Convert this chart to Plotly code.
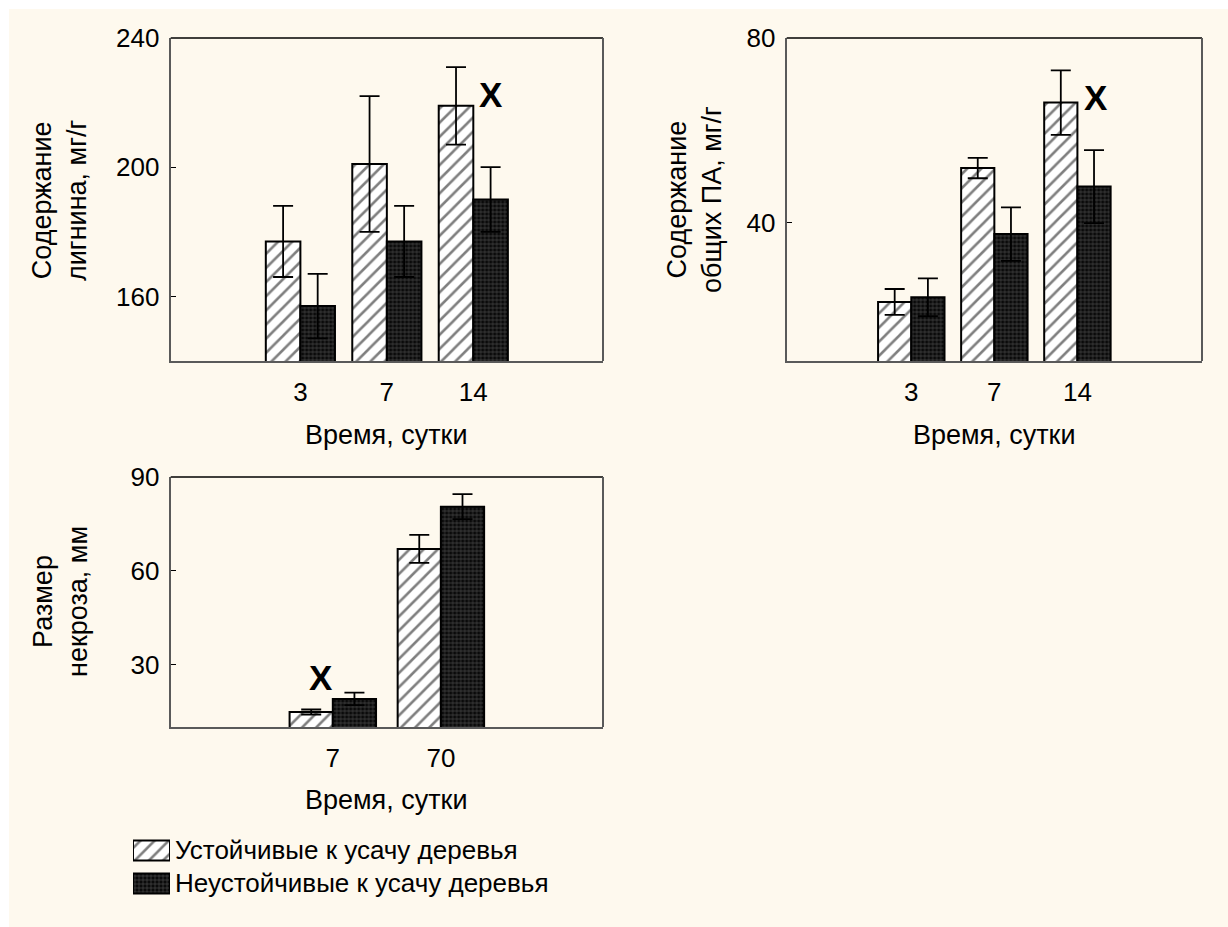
import plotly.graph_objects as go

W, H = 1228, 927

# ---- data ----
days_a = ["3", "7", "14"]
lignin_res = [177, 201, 219]
lignin_res_err = [11, 21, 12]
lignin_sus = [157, 177, 190]
lignin_sus_err = [10, 11, 10]

pa_res = [22.8, 51.8, 66.0]
pa_res_err = [2.8, 2.2, 7.0]
pa_sus = [23.8, 37.5, 47.8]
pa_sus_err = [4.1, 5.8, 7.9]

days_b = ["7", "70"]
necr_res = [14.8, 67.0]
necr_res_err = [0.8, 4.5]
necr_sus = [19.0, 80.5]
necr_sus_err = [2.0, 4.0]

name_res = "Устойчивые к усачу деревья"
name_sus = "Неустойчивые к усачу деревья"
legend_keys = ["r", "s"]
legend_len = [1, 1]

# significance marks: (axis, x position in category units, y value)
marks = [("x", 2.2, 222.5), ("x2", 2.22, 67.0), ("x3", -0.11, 26.0)]

FONT = "Liberation Sans, Arial, sans-serif"
FS_T = 26   # tick labels
FS_A = 27   # axis titles
FS_L = 26   # legend

res_marker = dict(color="white", line=dict(color="black", width=2),
                  pattern=dict(shape="/", size=10, solidity=0.26,
                               fgcolor="black", bgcolor="white"))
sus_marker = dict(color="#111111", line=dict(color="black", width=2),
                  pattern=dict(shape="+", size=4, solidity=0.25,
                               fgcolor="#a0a0a0", bgcolor="#0a0a0a"))

def err(v):
    return dict(type="data", array=v, visible=True, color="black",
                thickness=1.8, width=10)

fig = go.Figure()

def add_pair(xax, yax, cats, r, re, s, se):
    fig.add_trace(go.Bar(x=cats, y=r, error_y=err(re), marker=res_marker,
                         name=name_res, xaxis=xax, yaxis=yax, showlegend=False))
    fig.add_trace(go.Bar(x=cats, y=s, error_y=err(se), marker=sus_marker,
                         name=name_sus, xaxis=xax, yaxis=yax, showlegend=False))

add_pair("x", "y", days_a, lignin_res, lignin_res_err, lignin_sus, lignin_sus_err)
add_pair("x2", "y2", days_a, pa_res, pa_res_err, pa_sus, pa_sus_err)
add_pair("x3", "y3", days_b, necr_res, necr_res_err, necr_sus, necr_sus_err)

# legend swatches (own small axis)
fig.add_trace(go.Bar(y=[legend_keys[0]], x=[legend_len[0]], orientation="h",
                     marker=res_marker, width=0.6, offset=-0.3,
                     xaxis="x4", yaxis="y4", showlegend=False, hoverinfo="skip"))
fig.add_trace(go.Bar(y=[legend_keys[1]], x=[legend_len[1]], orientation="h",
                     marker=sus_marker, width=0.6, offset=-0.3,
                     xaxis="x4", yaxis="y4", showlegend=False, hoverinfo="skip"))

def px_x(a, b):
    return [a / W, b / W]

def px_y(top, bot):
    return [1 - bot / H, 1 - top / H]

axis_line = dict(showline=True, linecolor="#5a5a5a", linewidth=2,
                 showgrid=False, zeroline=False, automargin=False,
                 tickfont=dict(family=FONT, size=FS_T, color="black"))

xa = dict(axis_line, type="category", ticks="", ticklabelstandoff=7)
ya = dict(axis_line, ticks="inside", ticklen=5, tickcolor="black", tickwidth=1,
          ticklabelstandoff=4)

d_tl = px_x(170.7, 603)
d_tr = px_x(786.7, 1202)
d_top = px_y(38, 361)
d_bot = px_y(477, 727)

hidden = dict(visible=False, showgrid=False, zeroline=False, automargin=False,
              fixedrange=True)

fig.update_layout(
    xaxis=dict(xa, domain=d_tl, anchor="y", range=[-1.5, 3.5]),
    yaxis=dict(ya, domain=d_top, anchor="x", range=[140, 240],
               tickvals=[160, 200, 240]),
    xaxis2=dict(xa, domain=d_tr, anchor="y2", range=[-1.5, 3.5]),
    yaxis2=dict(ya, domain=d_top, anchor="x2", range=[10, 80],
                tickvals=[40, 80]),
    xaxis3=dict(xa, domain=d_tl, anchor="y3", range=[-1.5, 2.5]),
    yaxis3=dict(ya, domain=d_bot, anchor="x3", range=[10, 90],
                tickvals=[30, 60, 90]),
    xaxis4=dict(hidden, domain=px_x(133, 170), anchor="y4", range=[0, 1]),
    yaxis4=dict(hidden, domain=px_y(834, 900), anchor="x4", type="category",
                categoryorder="array", categoryarray=legend_keys[::-1],
                range=[-0.5, 1.5]),
)

shapes = [dict(type="rect", xref="paper", yref="paper", x0=9 / W, x1=1.0,
               y0=0, y1=1 - 9 / H, fillcolor="#FEF9EE", line=dict(width=0),
               layer="below")]
for (dx, dy) in [(d_tl, d_top), (d_tr, d_top), (d_tl, d_bot)]:
    shapes.append(dict(type="line", xref="paper", yref="paper",
                       x0=dx[0], x1=dx[1], y0=dy[1], y1=dy[1],
                       line=dict(color="black", width=1.3)))
    shapes.append(dict(type="line", xref="paper", yref="paper",
                       x0=dx[1], x1=dx[1], y0=dy[0], y1=dy[1],
                       line=dict(color="#5a5a5a", width=2)))

annotations = []
def ann(text, x, y, angle=0, size=FS_A, bold=False, xref="paper", yref="paper",
        xanchor="center"):
    annotations.append(dict(text=f"<b>{text}</b>" if bold else text,
                            x=x, y=y, xref=xref, yref=yref,
                            textangle=angle, showarrow=False,
                            xanchor=xanchor, yanchor="middle",
                            font=dict(family=FONT, size=size, color="black")))

ann("Содержание<br>лигнина, мг/г", 60 / W, 1 - 200 / H, angle=-90)
ann("Содержание<br>общих ПА, мг/г", 695 / W, 1 - 200 / H, angle=-90)
ann("Размер<br>некроза, мм", 60 / W, 1 - 602 / H, angle=-90)
ann("Время, сутки", 387 / W, 1 - 435 / H)
ann("Время, сутки", 994 / W, 1 - 435 / H)
ann("Время, сутки", 387 / W, 1 - 800 / H)
ann(name_res, 173 / W, 1 - 850 / H, size=FS_L, xanchor="left")
ann(name_sus, 173 / W, 1 - 883 / H, size=FS_L, xanchor="left")

for xax, xv, yv in marks:
    yax = "y" + xax[1:]
    ann("X", xv, yv, size=35, bold=True, xref=xax, yref=yax)

fig.update_layout(
    width=W, height=H, margin=dict(l=0, r=0, t=0, b=0, autoexpand=False),
    paper_bgcolor="white", plot_bgcolor="white",
    barmode="group", bargap=0.2, bargroupgap=0,
    shapes=shapes, annotations=annotations, showlegend=False,
    font=dict(family=FONT, size=FS_A, color="black"),
)

fig.write_html("out.html")
